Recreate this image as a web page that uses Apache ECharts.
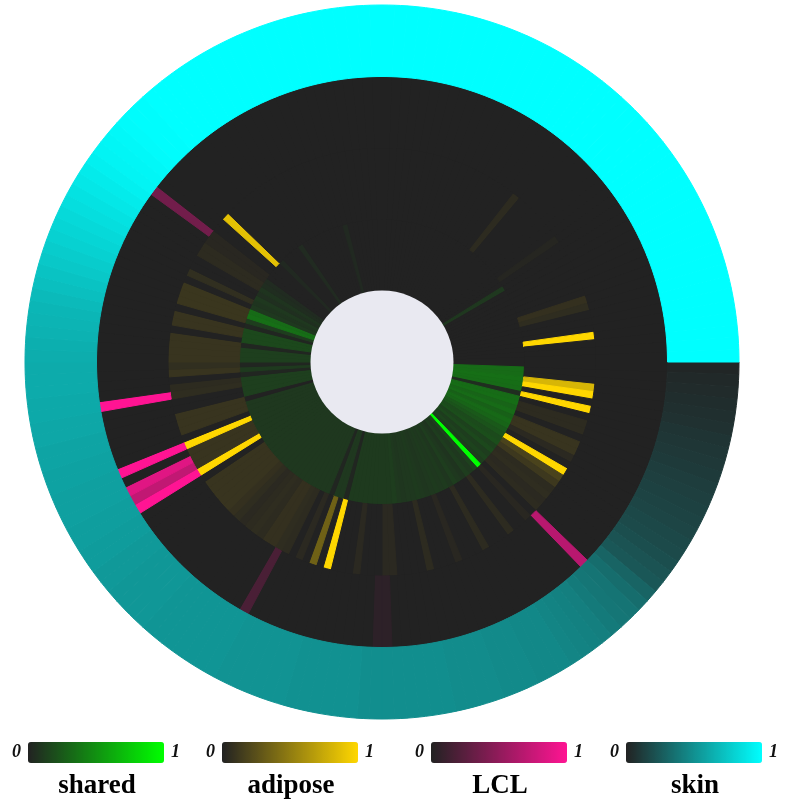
<!DOCTYPE html>
<html><head><meta charset="utf-8">
<script src="https://cdn.jsdelivr.net/npm/echarts@6/dist/echarts.min.js"></script>
<style>html,body{margin:0;padding:0;background:#fff}#c{width:786px;height:802px}</style>
</head><body><div id="c"></div>
<script>
// 180 angular slots of 2 degrees, clockwise from 3 o'clock
const slots = Array.from({length: 180}, (_, i) => String(i));

const shared = [
  0, 0.33, 0.33, 0.35, 0.34, 0.33, 0.05, 0.33, 0.34, 0.3,
  0.33, 0.28, 0.32, 0.3, 0.25, 0.22, 0.18, 0.2, 0.14, 0.17,
  0.12, 0.15, 0.12, 1.0, 0.14, 0.1, 0.12, 0.08, 0.1, 0.12,
  0.09, 0.11, 0.1, 0.11, 0.1, 0.09, 0.1, 0.11, 0.1, 0.1,
  0.09, 0.1, 0.12, 0.11, 0.11, 0.11, 0.11, 0.11, 0.11, 0.11,
  0.11, 0.11, 0.02, 0.1, 0.1, 0.02, 0.1, 0.1, 0.1, 0.1,
  0.1, 0.1, 0.1, 0.1, 0.1, 0.1, 0.1, 0.1, 0.1, 0.1,
  0.1, 0.1, 0.1, 0.1, 0.1, 0.1, 0.1, 0.1, 0.1, 0.1,
  0.1, 0.1, 0, 0.13, 0.13, 0.13, 0.13, 0.02, 0.11, 0.02,
  0.13, 0.13, 0.13, 0.02, 0.17, 0.17, 0.17, 0.02, 0.12, 0.35,
  0.33, 0.1, 0.08, 0.1, 0.06, 0.08, 0.05, 0.04, 0, 0,
  0, 0, 0.03, 0, 0, 0, 0, 0.04, 0, 0,
  0, 0, 0, 0, 0, 0, 0, 0.03, 0, 0,
  0, 0, 0, 0, 0, 0, 0, 0, 0, 0,
  0, 0, 0, 0, 0, 0, 0, 0, 0, 0,
  0, 0, 0, 0, 0, 0, 0, 0, 0, 0,
  0, 0, 0, 0, 0.1, 0, 0, 0, 0, 0,
  0, 0, 0, 0, 0, 0, 0, 0, 0, 0
];

const adipose = [
  0, 0, 0, 0.82, 1.0, 0, 1.0, 0, 0.05, 0.05,
  0, 0.1, 0.1, 0.04, 0, 1.0, 0.18, 0.12, 0.05, 0.06,
  0.04, 0.05, 0, 0.03, 0, 0, 0.05, 0, 0, 0,
  0.05, 0, 0, 0, 0.03, 0, 0, 0, 0.05, 0,
  0, 0, 0, 0.04, 0.04, 0, 0, 0, 0.04, 0,
  0, 0, 1.0, 0, 0.35, 0, 0.04, 0, 0.05, 0.06,
  0.08, 0.08, 0.05, 0.06, 0.05, 0.04, 0.06, 0.08, 0.1, 0.1,
  0.1, 0.1, 0.1, 0, 1.0, 0.1, 0.1, 0.1, 1.0, 0,
  0.1, 0.1, 0.1, 0, 0, 0.06, 0.05, 0, 0.1, 0.07,
  0.1, 0.1, 0.1, 0.1, 0, 0.1, 0.1, 0, 0.11, 0.11,
  0.11, 0, 0.07, 0, 0, 0.05, 0.05, 0.03, 0.03, 0,
  0, 0.88, 0, 0, 0, 0, 0, 0, 0, 0,
  0, 0, 0, 0, 0, 0, 0, 0, 0, 0,
  0, 0, 0, 0, 0, 0, 0, 0, 0, 0,
  0, 0, 0, 0, 0, 0, 0, 0, 0, 0,
  0, 0, 0, 0, 0.05, 0, 0, 0, 0, 0,
  0, 0, 0.02, 0, 0, 0, 0, 0, 0, 0,
  0, 0.08, 0.06, 0, 0, 0, 1.0, 0, 0, 0
];

const lcl = [
  0, 0, 0, 0, 0, 0, 0, 0, 0, 0,
  0, 0, 0, 0, 0, 0, 0, 0, 0, 0,
  0, 0, 0.68, 0, 0, 0, 0, 0, 0, 0,
  0, 0, 0, 0, 0, 0, 0, 0, 0, 0,
  0, 0, 0, 0, 0.05, 0.05, 0, 0, 0, 0,
  0, 0, 0, 0, 0, 0, 0, 0, 0, 0.18,
  0, 0, 0, 0, 0, 0, 0, 0, 0, 0,
  0, 0, 0, 0, 1.0, 0.72, 0.86, 0, 1.0, 0,
  0, 0, 0, 0, 0, 1.0, 0, 0, 0, 0,
  0, 0, 0, 0, 0, 0, 0, 0, 0, 0,
  0, 0, 0, 0, 0, 0, 0, 0, 0.36, 0,
  0, 0, 0, 0, 0, 0, 0, 0, 0, 0,
  0, 0, 0, 0, 0, 0, 0, 0, 0, 0,
  0, 0, 0, 0, 0, 0, 0, 0, 0, 0,
  0, 0, 0, 0, 0, 0, 0, 0, 0, 0,
  0, 0, 0, 0, 0, 0, 0, 0, 0, 0,
  0, 0, 0, 0, 0, 0, 0, 0, 0, 0,
  0, 0, 0, 0, 0, 0, 0, 0, 0, 0
];

const skin = [
  0.02, 0.03, 0.04, 0.05, 0.06, 0.07, 0.08, 0.09, 0.10, 0.11,
  0.12, 0.13, 0.14, 0.15, 0.16, 0.17, 0.18, 0.20, 0.22, 0.24,
  0.30, 0.34, 0.37, 0.38, 0.40, 0.42, 0.43, 0.44, 0.45, 0.46,
  0.46, 0.46, 0.47, 0.47, 0.47, 0.48, 0.48, 0.48, 0.48, 0.49,
  0.49, 0.49, 0.49, 0.49, 0.49, 0.49, 0.49, 0.5, 0.5, 0.5,
  0.5, 0.5, 0.5, 0.51, 0.51, 0.51, 0.51, 0.51, 0.51, 0.52,
  0.52, 0.52, 0.52, 0.52, 0.52, 0.52, 0.53, 0.53, 0.53, 0.53,
  0.54, 0.54, 0.55, 0.55, 0.56, 0.56, 0.57, 0.57, 0.57, 0.58,
  0.58, 0.59, 0.59, 0.6, 0.6, 0.61, 0.61, 0.62, 0.62, 0.62,
  0.63, 0.64, 0.65, 0.66, 0.67, 0.69, 0.71, 0.73, 0.75, 0.77,
  0.79, 0.81, 0.83, 0.85, 0.87, 0.89, 0.91, 0.93, 0.95, 0.96,
  0.97, 0.98, 0.99, 0.99, 1, 1, 1, 1, 1, 1,
  1, 1, 1, 1, 1, 1, 1, 1, 1, 1,
  1, 1, 1, 1, 1, 1, 1, 1, 1, 1,
  1, 1, 1, 1, 1, 1, 1, 1, 1, 1,
  1, 1, 1, 1, 1, 1, 1, 1, 1, 1,
  1, 1, 1, 1, 1, 1, 1, 1, 1, 1,
  1, 1, 1, 1, 1, 1, 1, 1, 1, 1
];

const ringNames = ['shared', 'adipose', 'LCL', 'skin'];
const ringData = [shared, adipose, lcl, skin];
const highColors = ['#00ff00', '#ffd700', '#ff1493', '#00ffff'];
const legendBarLeft = [29, 223, 432, 627];

const chart = echarts.init(document.getElementById('c'), null, {renderer: 'canvas'});

const visualMaps = ringNames.map((name, k) => ({
  type: 'continuous',
  seriesIndex: k,
  dimension: 2,
  min: 0, max: 1,
  inRange: {color: ['#222222', highColors[k]]},
  orient: 'horizontal',
  left: legendBarLeft[k] - 17,
  top: 742,
  itemWidth: 21,
  itemHeight: 136,
  text: ['1', '0'],
  textGap: 7,
  calculable: false,
  hoverLink: false,
  realtime: false,
  padding: 0,
  textStyle: {fontFamily: 'Liberation Serif', fontStyle: 'italic', fontWeight: 'bold', fontSize: 18, color: '#111'}
}));

// each ring k occupies radius units [k, k+1]; each slot is one angle category
function makeRenderer(k) {
  return function (params, api) {
    const i = api.value(0);
    const cs = params.coordSys;
    const pIn = api.coord([k, i]);
    const pOut = api.coord([k + 1, i]);
    const a = Math.atan2(pOut[1] - cs.cy, pOut[0] - cs.cx);
    const hw = api.size([1, 1], [k, i])[1] / 2;
    const c = api.visual('color');
    return {
      type: 'sector',
      shape: {cx: cs.cx, cy: cs.cy, r0: pIn[2], r: pOut[2], startAngle: a - hw, endAngle: a + hw, clockwise: true},
      style: {fill: c, stroke: c, lineWidth: 1}
    };
  };
}

const series = ringData.map((arr, k) => ({
  type: 'custom',
  name: ringNames[k],
  coordinateSystem: 'polar',
  silent: true,
  z: 3,
  encode: {angle: 0, radius: 1},
  data: arr.map((v, i) => [i, k + 0.5, v]),
  renderItem: makeRenderer(k)
}));

const labels = ringNames.map((name, k) => ({
  type: 'text',
  x: legendBarLeft[k] + 68,
  y: 786,
  z: 10,
  style: {
    text: name,
    x: 0, y: 0,
    textAlign: 'center',
    textVerticalAlign: 'middle',
    font: 'bold 27px "Liberation Serif"',
    fill: '#000'
  }
}));

chart.setOption({
  animation: false,
  backgroundColor: '#ffffff',
  polar: {center: [382, 362], radius: [71, 357]},
  angleAxis: {
    type: 'category', data: slots, startAngle: 0, clockwise: true, boundaryGap: true,
    axisLine: {show: false}, axisTick: {show: false}, axisLabel: {show: false}, splitLine: {show: false}
  },
  radiusAxis: {
    type: 'value', min: 0, max: 4,
    axisLine: {show: false}, axisTick: {show: false}, axisLabel: {show: false}, splitLine: {show: false}
  },
  visualMap: visualMaps,
  series: series,
  graphic: [
    {type: 'ring', shape: {cx: 382, cy: 362, r: 285, r0: 71}, style: {fill: '#222222'}, z: 0},
    {type: 'circle', shape: {cx: 382, cy: 362, r: 71.5}, style: {fill: '#e9e9f1'}, z: 10}
  ].concat(labels)
});
</script></body></html>
